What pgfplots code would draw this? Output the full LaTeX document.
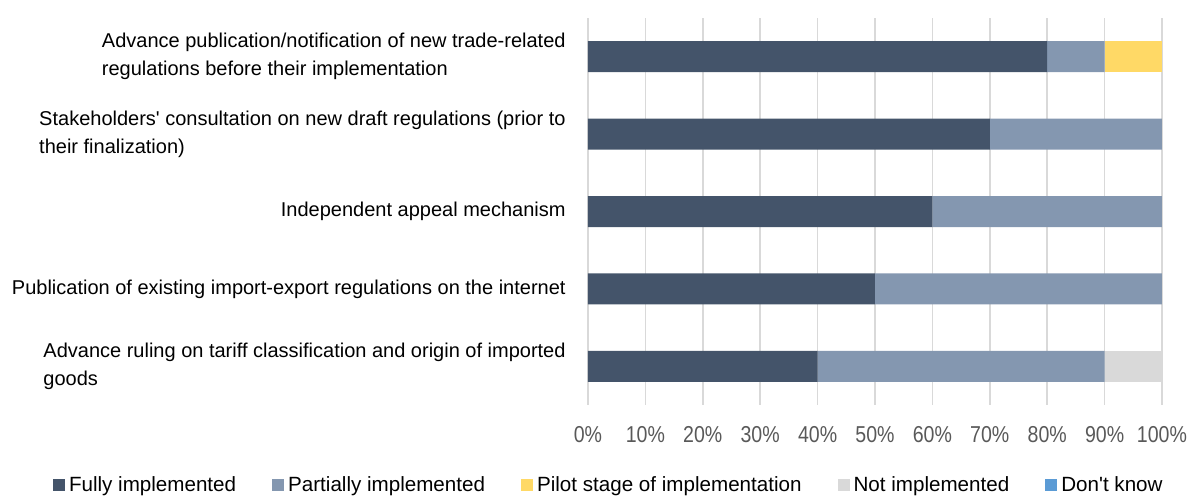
\documentclass[border=0pt]{standalone}
\usepackage{pgfplots}
\pgfplotsset{compat=1.18}
\usepackage{fontspec}
\setmainfont{Liberation Sans}
\newfontfamily\condensed[FakeStretch=0.85]{Liberation Sans}
\definecolor{cFull}{HTML}{44546A}
\definecolor{cPart}{HTML}{8497B0}
\definecolor{cPilot}{HTML}{FFD966}
\definecolor{cNot}{HTML}{D9D9D9}
\definecolor{cDK}{HTML}{5B9BD5}
\definecolor{cTxt}{HTML}{595959}
\begin{document}
\begin{tikzpicture}
\path[use as bounding box] (-294pt,-46pt) rectangle (300.5pt,202.5pt);
\begin{axis}[
  at={(0,0)}, anchor=south west,
  scale only axis, width=287pt, height=193.5pt,
  xbar stacked, bar width=15.5pt,
  xmin=0, xmax=100, ymin=-0.5, ymax=4.5, y dir=reverse,
  xtick={0,10,...,100},
  xticklabel={\pgfmathprintnumber{\tick}\%},
  /pgf/number format/assume math mode=true,
  ytick={0,1,2,3,4},
  yticklabels={{Advance publication/notification of new trade-related\\regulations before their implementation},
    {Stakeholders\textquotesingle\ consultation on new draft regulations (prior to\\their finalization)},
    {Independent appeal mechanism},
    {Publication of existing import-export regulations on the internet},
    {Advance ruling on tariff classification and origin of imported\\goods}},
  yticklabel style={align=left, font=\fontsize{10}{14}\selectfont, text=black, inner sep=0pt, xshift=-11pt},
  xticklabel style={font=\condensed\fontsize{11.5}{13}\selectfont, text=cTxt, yshift=-7pt},
  major tick length=0pt,
  axis line style={draw=none},
  xmajorgrids, grid style={draw=cNot, line width=0.8pt},
  ymajorgrids=false,
  legend columns=5,
  legend style={at={(0.038,-0.207)}, anchor=center, draw=none, fill=none,
    font=\fontsize{10.3}{12}\selectfont, text=black,
    /tikz/every even column/.append style={column sep=16pt}},
  legend image code/.code={\fill[#1] (0pt,-3pt) rectangle (6pt,3pt);},
  every axis plot/.append style={draw=none},
]
\addplot[fill=cFull] coordinates {(80,0) (70,1) (60,2) (50,3) (40,4)};
\addplot[fill=cPart] coordinates {(10,0) (30,1) (40,2) (50,3) (50,4)};
\addplot[fill=cPilot] coordinates {(10,0) (0,1) (0,2) (0,3) (0,4)};
\addplot[fill=cNot] coordinates {(0,0) (0,1) (0,2) (0,3) (10,4)};
\addplot[fill=cDK] coordinates {(0,0) (0,1) (0,2) (0,3) (0,4)};
\legend{Fully implemented, Partially implemented, Pilot stage of implementation, Not implemented, Don\textquotesingle t know}
\end{axis}
\end{tikzpicture}
\end{document}
